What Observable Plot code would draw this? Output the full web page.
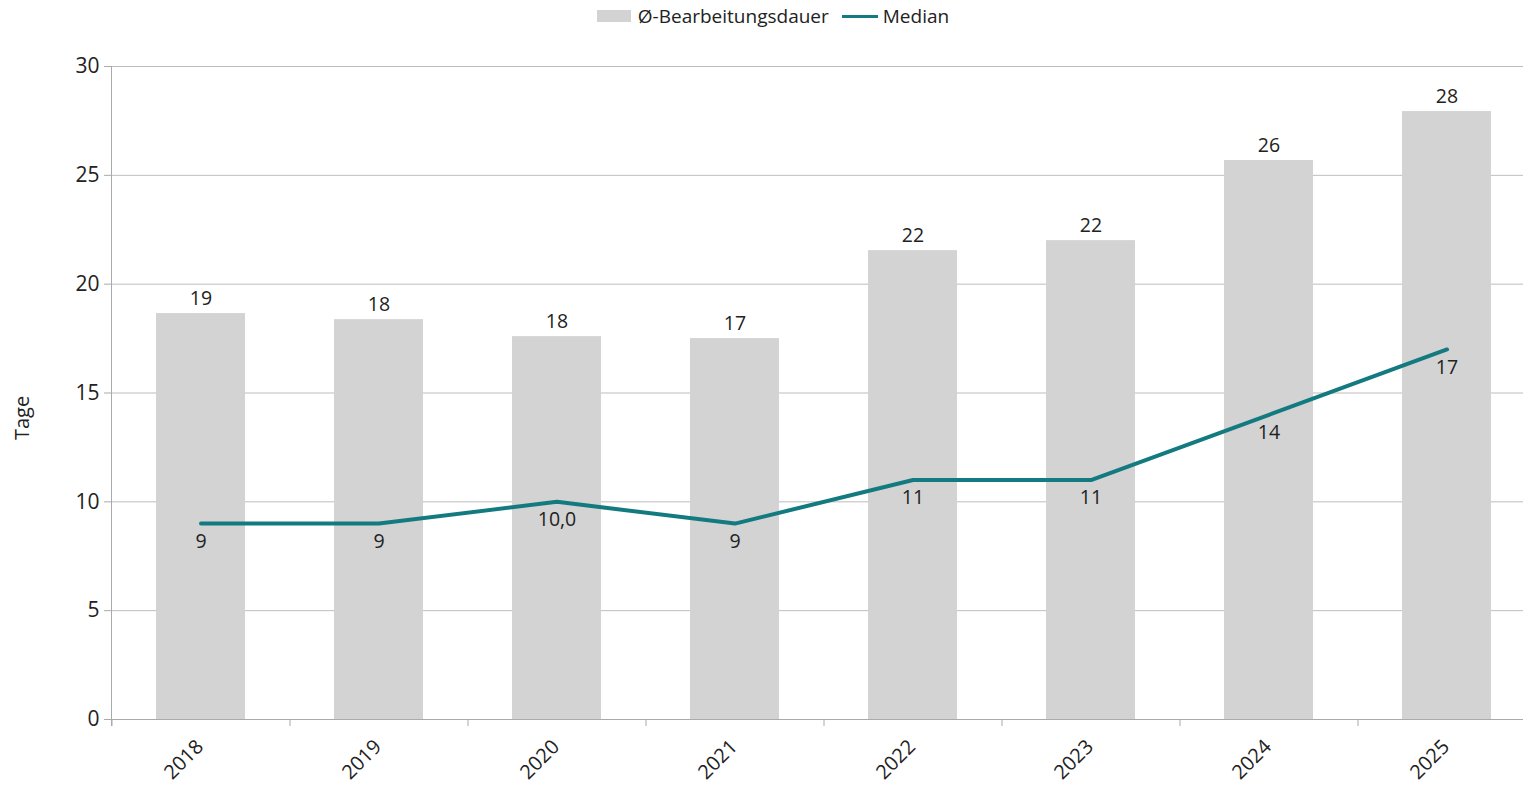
<!DOCTYPE html>
<html><head><meta charset="utf-8">
<script src="https://cdn.jsdelivr.net/npm/d3@7"></script>
<script src="https://cdn.jsdelivr.net/npm/@observablehq/plot@0.6"></script>
<style>
html,body{margin:0;padding:0;background:#fff;overflow:hidden;width:1523px;height:785px;}
#legend{height:32px;display:flex;justify-content:center;align-items:center;font-family:"Open Sans",sans-serif;font-size:19px;color:#222;padding-left:23px;box-sizing:border-box;}
#legend .sw{display:inline-block;width:34px;height:12px;background:#d3d3d3;margin-right:7px;}
#legend .ln{display:inline-block;width:36px;height:3px;background:#137b80;margin:0 5px 0 13px;}
#chart{width:1523px;height:753px;overflow:hidden;}
#chart svg{max-width:none !important;}
</style></head>
<body>
<div id="legend"><span class="sw"></span><span>Ø-Bearbeitungsdauer</span><span class="ln"></span><span>Median</span></div>
<div id="chart"></div>
<script>
const years = ["2018","2019","2020","2021","2022","2023","2024","2025"];
const avgDays = [18.65, 18.37, 17.59, 17.5, 21.54, 22.0, 25.68, 27.93];
const avgLabels = ["19","18","18","17","22","22","26","28"];
const medianDays = [9, 9, 10, 9, 11, 11, 14, 17];
const medianLabels = ["9","9","10,0","9","11","11","14","17"];
const yTicks = [0, 5, 10, 15, 20, 25, 30];

const data = years.map((y, i) => ({year: y, avg: avgDays[i], avgLabel: avgLabels[i], med: medianDays[i], medLabel: medianLabels[i]}));

const W = 1535, H = 753;
const chart = Plot.plot({
  width: W, height: H,
  marginLeft: 111, marginRight: 0, marginTop: 34, marginBottom: 66,
  style: {fontFamily: "'Open Sans', sans-serif", fontSize: "20px", color: "#222", background: "#fff"},
  x: {domain: years, paddingInner: 0.5, paddingOuter: 0.25, label: null},
  y: {domain: [0, 30], ticks: yTicks, label: null},
  marks: [
    Plot.gridY(yTicks, {stroke: "#bdbdbd", strokeOpacity: 1, strokeWidth: 1}),
    Plot.barY(data, {x: "year", y: "avg", fill: "#d3d3d3"}),
    Plot.axisY({ticks: yTicks, tickSize: 7, tickPadding: 5, stroke: "#aaa", fontSize: 21, label: null}),
    Plot.ruleX(years, {x: d => d, dx: -89, y1: 0, y2: 0, stroke: "#aaa", insetBottom: -7}),
    Plot.axisX({tickSize: 0, tickRotate: -45, tickPadding: 24, dx: -1, fontSize: 20, label: null}),
    Plot.ruleY([0], {stroke: "#aaa"}),
    Plot.lineY(data, {x: "year", y: "med", stroke: "#137b80", strokeWidth: 4}),
    Plot.text(data, {x: "year", y: "avg", text: "avgLabel", dy: -15, fontSize: 19.5, fill: "#222"}),
    Plot.text(data, {x: "year", y: "med", text: "medLabel", dy: 18, fontSize: 19.5, fill: "#222"})
  ]
});
document.getElementById("chart").appendChild(chart);

// y axis line and axis title
const svg = d3.select(chart);
svg.append("line").attr("x1", 111.5).attr("x2", 111.5).attr("y1", 34).attr("y2", H - 66 + 7).attr("stroke", "#aaa");
svg.append("text").attr("transform", `translate(29,${418-32}) rotate(-90)`).attr("text-anchor", "middle")
  .attr("font-size", 20).attr("fill", "#222").text("Tage");
</script>
</body></html>
